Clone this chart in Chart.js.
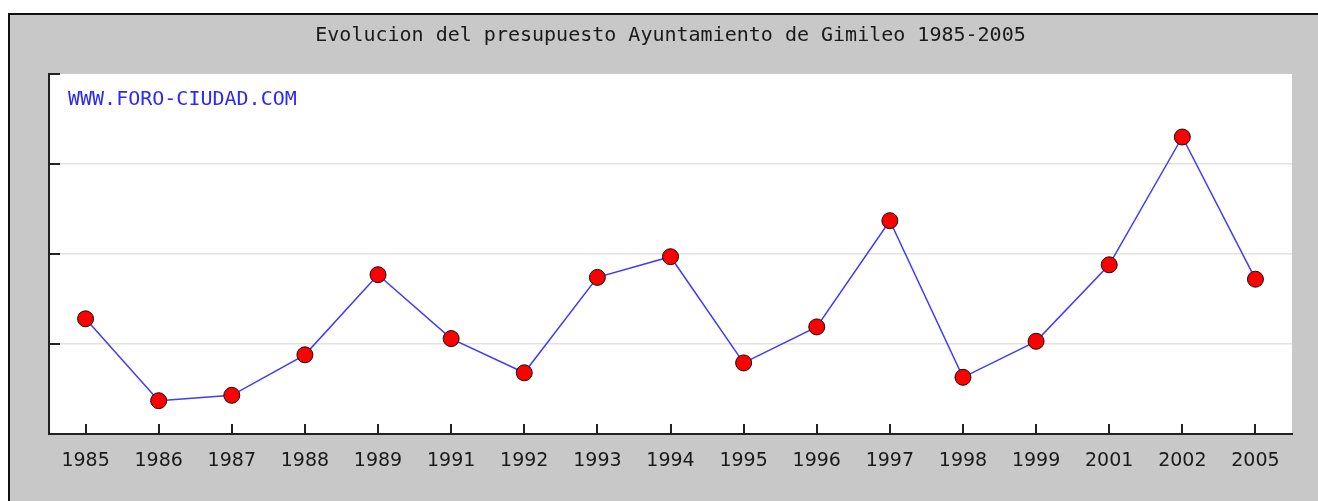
<!DOCTYPE html>
<html>
<head>
<meta charset="utf-8">
<script src="https://cdn.jsdelivr.net/npm/chart.js@4"></script>
<style>
  html, body { margin: 0; padding: 0; background: #ffffff; }
  #wrap { width: 1318px; height: 501px; }
</style>
</head>
<body>
<div id="wrap"><canvas id="budgetChart" width="1318" height="501"></canvas></div>
<script>
// data (scale has no labels, so units are relative)
const years = ['1985', '1986', '1987', '1988', '1989', '1991', '1992', '1993', '1994',
  '1995', '1996', '1997', '1998', '1999', '2001', '2002', '2005'];
const budget = [128, 37, 43, 88, 177, 106, 68, 174, 197, 79, 119, 237, 63, 103, 188, 330, 172];
const yTicks = [0, 100, 200, 300, 400];

const chartTitle = 'Evolucion del presupuesto Ayuntamiento de Gimileo 1985-2005';
const watermark = 'WWW.FORO-CIUDAD.COM';

// background, frame, title, watermark and the inward tick marks
const decorPlugin = {
  id: 'decor',
  beforeDraw(chart) {
    const ctx = chart.ctx;
    const a = chart.chartArea;
    ctx.save();
    ctx.fillStyle = '#ffffff';
    ctx.fillRect(0, 0, chart.width, chart.height);
    ctx.fillStyle = '#c8c8c8';
    ctx.fillRect(10, 15, chart.width - 10, chart.height - 15);
    ctx.fillStyle = '#111111';
    ctx.fillRect(8, 13, chart.width - 8, 2);
    ctx.fillRect(8, 13, 2, chart.height - 13);
    ctx.fillStyle = '#ffffff';
    ctx.fillRect(a.left, a.top, a.right - a.left, a.bottom - a.top);

    ctx.fillStyle = '#1a1a1a';
    ctx.font = '20px "DejaVu Sans Mono"';
    ctx.textAlign = 'center';
    ctx.textBaseline = 'middle';
    ctx.fillText(chartTitle, (a.left + a.right) / 2, 36);
    ctx.restore();
  },
  afterDraw(chart) {
    const ctx = chart.ctx;
    const a = chart.chartArea;
    const x = chart.scales.x;
    const y = chart.scales.y;
    ctx.save();
    ctx.fillStyle = '#2a2aff';
    ctx.font = '20px "DejaVu Sans Mono"';
    ctx.textAlign = 'left';
    ctx.textBaseline = 'middle';
    ctx.fillText(watermark, a.left + 19, 100);

    ctx.strokeStyle = '#222222';
    ctx.lineWidth = 2;
    ctx.beginPath();
    yTicks.slice(1).forEach(v => {
      const py = Math.round(y.getPixelForValue(v));
      ctx.moveTo(a.left, py);
      ctx.lineTo(a.left + 11, py);
    });
    years.forEach((_, i) => {
      const px = Math.round(x.getPixelForTick(i));
      ctx.moveTo(px, a.bottom);
      ctx.lineTo(px, a.bottom - 10);
    });
    ctx.stroke();
    ctx.restore();
  }
};

const ctx = document.getElementById('budgetChart').getContext('2d');
const budgetChart = new Chart(ctx, {
  type: 'line',
  data: {
    labels: years,
    datasets: [{
      label: 'Presupuesto',
      data: budget,
      borderColor: '#3c3cff',
      borderWidth: 1.5,
      tension: 0,
      pointStyle: 'circle',
      pointRadius: 8,
      pointHoverRadius: 8,
      pointBackgroundColor: '#ff0000',
      pointBorderColor: '#111111',
      pointBorderWidth: 1
    }]
  },
  options: {
    responsive: false,
    animation: false,
    layout: {
      padding: { left: 49, top: 74, right: 26, bottom: 0 }
    },
    scales: {
      x: {
        offset: true,
        afterFit(scale) { scale.height = 67; },
        grid: { display: false },
        border: { display: true, color: '#222222', width: 2 },
        ticks: {
          color: '#1a1a1a',
          padding: 8,
          maxRotation: 0,
          autoSkip: false,
          font: { family: 'DejaVu Sans', size: 19 }
        }
      },
      y: {
        min: 0,
        max: 400,
        afterFit(scale) { scale.width = 0; },
        afterBuildTicks(scale) {
          scale.ticks = yTicks.map(v => ({ value: v }));
        },
        grid: {
          drawTicks: false,
          lineWidth: 1.5,
          color: c => (c.tick && (c.tick.value === 0 || c.tick.value === 400)) ? 'rgba(0,0,0,0)' : '#e2e2e2'
        },
        border: { display: true, color: '#222222', width: 2 },
        ticks: { display: false }
      }
    },
    plugins: {
      legend: { display: false },
      title: { display: false },
      tooltip: { enabled: false }
    }
  },
  plugins: [decorPlugin]
});
</script>
</body>
</html>
